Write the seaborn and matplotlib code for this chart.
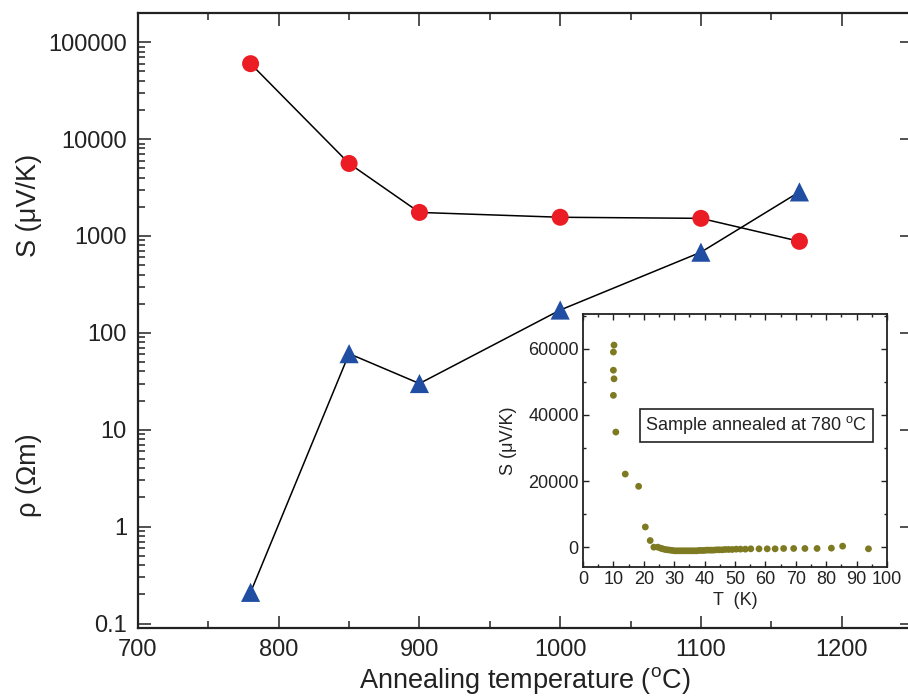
import matplotlib
matplotlib.use("Agg")
import matplotlib.pyplot as plt
import numpy as np
import pandas as pd
import seaborn as sns
from matplotlib.ticker import MultipleLocator, LogLocator, NullFormatter

# main panel: annealing temperature series
anneal_temp = [780, 850, 900, 1000, 1100, 1170]
seebeck = [60000, 5600, 1750, 1560, 1520, 880]
resistivity = [0.21, 61, 30, 172, 680, 2850]

# inset: S(T) for the sample annealed at 780 C
inset_T = [10.2, 10.0, 10.0, 10.2, 10.0, 10.8, 13.9, 18.3, 20.5, 22.1, 23.3, 24.6,
           25.5, 26.2, 27.0, 27.8, 28.6, 29.4, 30.2, 31.0, 31.8, 32.6, 33.4, 34.2,
           35.0, 35.8, 36.6, 37.4, 38.2, 39.0, 39.8, 40.6, 41.4, 42.2, 43.0, 43.9,
           44.8, 45.8, 46.8, 47.9, 49.1, 50.4, 51.8, 53.4, 55.2, 57.9, 60.6, 63.2,
           66.0, 69.3, 73.0, 77.0, 81.7, 85.4, 93.9]
inset_S = [61100, 59000, 53500, 50900, 45900, 34800, 22100, 18400, 6100, 2000, 0, 0,
           -300, -500, -700, -800, -900, -1000, -1100, -1100, -1100, -1100, -1100, -1100,
           -1100, -1100, -1100, -1100, -1000, -1000, -1000, -900, -900, -900, -900, -800,
           -800, -800, -700, -700, -700, -600, -600, -600, -500, -500, -500, -500,
           -400, -400, -400, -400, -300, 300, -500]

sns.set_style("ticks")
plt.rcParams["font.family"] = ["Liberation Sans", "DejaVu Sans"]
plt.rcParams["mathtext.fontset"] = "custom"
plt.rcParams["mathtext.rm"] = "Liberation Sans"

W, H = 908, 697
ink = "#222222"
fig = plt.figure(figsize=(W / 100, H / 100), dpi=100)
ax = fig.add_axes([138 / W, (H - 628) / H, (912 - 138) / W, (628 - 13) / H])

main = pd.DataFrame({"T": anneal_temp, "S": seebeck, "rho": resistivity})
sns.lineplot(data=main, x="T", y="S", color="black", lw=1.1, ax=ax, zorder=2)
sns.lineplot(data=main, x="T", y="rho", color="black", lw=1.1, ax=ax, zorder=2)
sns.scatterplot(data=main, x="T", y="S", color="#ec1c24", s=150, marker="o",
                edgecolor="none", ax=ax, zorder=3)
sns.scatterplot(data=main, x="T", y="rho", color="#1f4ea3", s=190, marker="^",
                edgecolor="none", ax=ax, zorder=3)

ax.set_yscale("log")
ax.set_xlim(700, 1250)
ax.set_ylim(0.09, 2e5)
ax.xaxis.set_major_locator(MultipleLocator(100))
ax.xaxis.set_minor_locator(MultipleLocator(50))
ax.yaxis.set_minor_locator(LogLocator(base=10, subs=np.arange(2, 10), numticks=12))
ax.yaxis.set_minor_formatter(NullFormatter())
ax.set_yticks([0.1, 1, 10, 100, 1000, 10000, 100000])
ax.set_yticklabels(["0.1", "1", "10", "100", "1000", "10000", "100000"])
ax.tick_params(which="both", direction="in", top=True, right=True, labelsize=17,
               width=1.1, color=ink, labelcolor=ink)
ax.tick_params(which="major", length=9, pad=8)
ax.tick_params(which="minor", length=5)
ax.tick_params(axis="y", which="minor", right=False)
for sp in ax.spines.values():
    sp.set_linewidth(1.6)
    sp.set_color(ink)
ax.set_xlabel(r"Annealing temperature ($^{\mathrm{o}}$C)", fontsize=19.5, color=ink, labelpad=3)
ax.set_ylabel("")
fig.text(29 / W, 1 - 205 / H, "S (\u03bcV/K)", rotation=90, fontsize=19.5,
         ha="center", va="center", color=ink)
fig.text(29 / W, 1 - 475 / H, "\u03c1 (\u03a9m)", rotation=90, fontsize=19.5,
         ha="center", va="center", color=ink)

# inset
ins = fig.add_axes([583 / W, (H - 567) / H, (887 - 583) / W, (567 - 314) / H])
inset = pd.DataFrame({"T": inset_T, "S": inset_S})
sns.scatterplot(data=inset, x="T", y="S", color="#7d7a22", s=24, marker="o",
                edgecolor="none", ax=ins)
ins.set_xlim(0, 100)
ins.set_ylim(-6000, 70500)
ins.xaxis.set_major_locator(MultipleLocator(10))
ins.xaxis.set_minor_locator(MultipleLocator(5))
ins.yaxis.set_major_locator(MultipleLocator(20000))
ins.yaxis.set_minor_locator(MultipleLocator(10000))
ins.tick_params(which="both", direction="in", top=True, right=True, labelsize=13,
                width=1.0, color=ink, labelcolor=ink, pad=3)
ins.tick_params(which="major", length=4)
ins.tick_params(which="minor", length=2.5)
for sp in ins.spines.values():
    sp.set_linewidth(1.3)
    sp.set_color(ink)
ins.set_xlabel("T  (K)", fontsize=13, color=ink, labelpad=3)
ins.set_ylabel("S (\u03bcV/K)", fontsize=13, color=ink, labelpad=8)
ins.text(0.205, 0.56, r"Sample annealed at 780 $^{\mathrm{o}}$C", transform=ins.transAxes,
         fontsize=13, color=ink, va="center", ha="left",
         bbox=dict(boxstyle="square,pad=0.3", facecolor="white", edgecolor=ink, lw=1.2))

fig.savefig("out.png", dpi=100)
